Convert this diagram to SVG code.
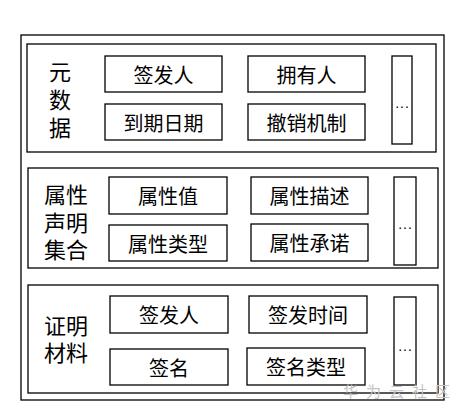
<svg xmlns="http://www.w3.org/2000/svg" width="464" height="416" viewBox="0 0 464 416">
<style>
rect{fill:#fff;stroke:#000;stroke-width:1.3}
text{font-family:"Noto Sans CJK SC","Noto Sans",sans-serif;fill:#000;text-anchor:middle;dominant-baseline:central}
.b{font-size:20px}
.l{font-size:22px}
.d{font-family:"Liberation Sans",sans-serif;font-size:14px;letter-spacing:1px}
.w{font-size:15px;fill:#c4c4c4;letter-spacing:8px;text-anchor:start}
</style>
<rect x="0" y="0" width="464" height="416" style="stroke:none"/>
<g id="outer"><rect x="21" y="35" width="423" height="365"/></g>
<g id="metadata">
<rect x="27" y="44" width="409" height="108"/>
<text class="l"><tspan x="60" y="70">元</tspan><tspan x="60" y="98">数</tspan><tspan x="60" y="126">据</tspan></text>
<g id="m1"><rect x="105" y="56" width="117" height="36"/><text class="b" x="163.5" y="74">签发人</text></g>
<g id="m2"><rect x="105" y="104" width="117" height="36"/><text class="b" x="163.5" y="122">到期日期</text></g>
<g id="m3"><rect x="248" y="56" width="117" height="36"/><text class="b" x="306.5" y="74">拥有人</text></g>
<g id="m4"><rect x="248" y="104" width="117" height="36"/><text class="b" x="306.5" y="122">撤销机制</text></g>
<g id="m5"><rect x="392" y="56" width="20" height="88"/><text class="d" x="402.5" y="103">...</text></g>
</g>
<g id="claims">
<rect x="28" y="168" width="410" height="100"/>
<text class="l"><tspan x="66" y="193">属性</tspan><tspan x="66" y="221">声明</tspan><tspan x="66" y="248">集合</tspan></text>
<g id="c1"><rect x="109" y="177" width="118" height="37"/><text class="b" x="168" y="195.5">属性值</text></g>
<g id="c2"><rect x="109" y="225" width="118" height="36"/><text class="b" x="168" y="243">属性类型</text></g>
<g id="c3"><rect x="251" y="177" width="117" height="37"/><text class="b" x="309.5" y="195.5">属性描述</text></g>
<g id="c4"><rect x="251" y="224" width="117" height="37"/><text class="b" x="309.5" y="242.5">属性承诺</text></g>
<g id="c5"><rect x="394" y="177" width="22" height="88"/><text class="d" x="405.5" y="224">...</text></g>
</g>
<g id="proof">
<rect x="28" y="285" width="410" height="108"/>
<text class="l"><tspan x="66" y="324">证明</tspan><tspan x="66" y="351">材料</tspan></text>
<g id="p1"><rect x="110" y="296" width="118" height="37"/><text class="b" x="169" y="314.5">签发人</text></g>
<g id="p2"><rect x="110" y="349" width="118" height="36"/><text class="b" x="169" y="367">签名</text></g>
<g id="p3"><rect x="249" y="296" width="118" height="37"/><text class="b" x="308" y="314.5">签发时间</text></g>
<g id="p4"><rect x="247" y="348" width="118" height="37"/><text class="b" x="306" y="366.5">签名类型</text></g>
<g id="p5"><rect x="394" y="297" width="22" height="88"/><text class="d" x="405.5" y="346">...</text></g>
</g>
<text class="w" x="343" y="390">华为云社区</text>
</svg>
